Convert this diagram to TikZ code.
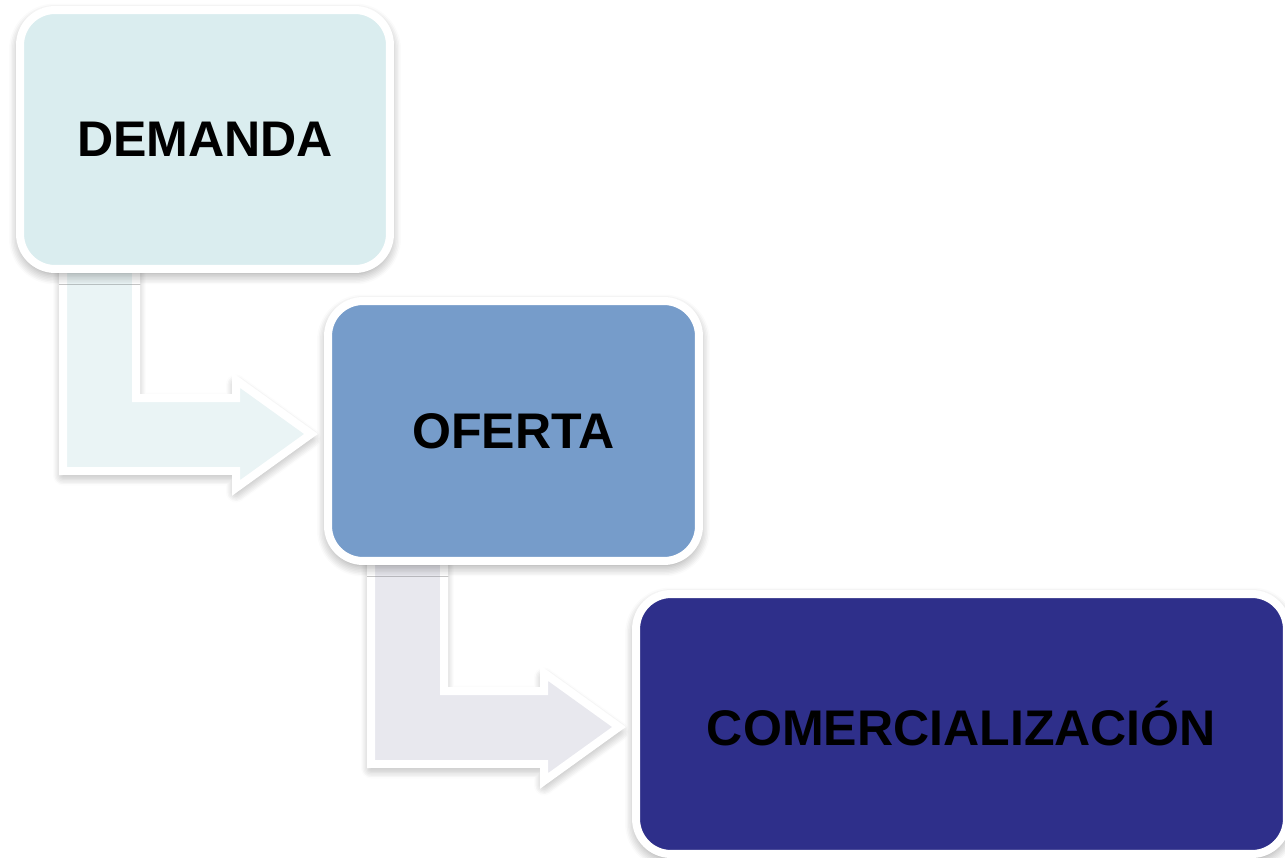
\documentclass[tikz,border=0pt]{standalone}
\usepackage{fontspec}
\setmainfont{Liberation Sans}
\usetikzlibrary{shadows.blur}

\definecolor{demfill}{HTML}{DAEDEF}
\definecolor{ofefill}{HTML}{769CCA}
\definecolor{comfill}{HTML}{2E2F8A}
\definecolor{arrone}{HTML}{EAF4F5}
\definecolor{arrtwo}{HTML}{E8E8EE}

\tikzset{
    stage/.style={ draw=white, line width=0.16cm, rounded corners=0.7cm,
        font=\fontsize{28.5}{30}\selectfont\bfseries, text=black,
        blur shadow={shadow xshift=0pt, shadow yshift=-0.09cm, shadow blur radius=0.22cm, shadow blur steps=8, shadow opacity=45}},
    elbow/.style={ draw=white, line width=0.16cm, line join=miter,
        blur shadow={shadow xshift=0pt, shadow yshift=-0.09cm, shadow blur radius=0.2cm, shadow blur steps=8, shadow opacity=40}},
  }

\begin{document}
\begin{tikzpicture}[x=0.02cm, y=-0.02cm]

\useasboundingbox (0,0) rectangle (1285,858);

% bent arrows (tops hidden under the boxes)
   \draw[elbow, fill=arrone] (63,220) -- (63,471) -- (236,471) -- (236,488) -- (311,434)
        -- (236,380) -- (236,398) -- (136,398) -- (136,220) -- cycle;
   \draw[elbow, fill=arrtwo] (371,513) -- (371,764) -- (544,764) -- (544,781) -- (619,727)
        -- (544,673) -- (544,691) -- (444,691) -- (444,513) -- cycle;

% stages
  \node[stage, fill=demfill, minimum width=7.4cm, minimum height=5.18cm] (dem) at (205,139.5) {DEMANDA};
  \node[stage, fill=ofefill, minimum width=7.42cm, minimum height=5.2cm] (ofe) at (513.5,431) {OFERTA};
  \node[stage, fill=comfill, minimum width=13.02cm, minimum height=5.2cm] (com) at (961.5,724) {COMERCIALIZACIÓN};

\end{tikzpicture}
\end{document}
